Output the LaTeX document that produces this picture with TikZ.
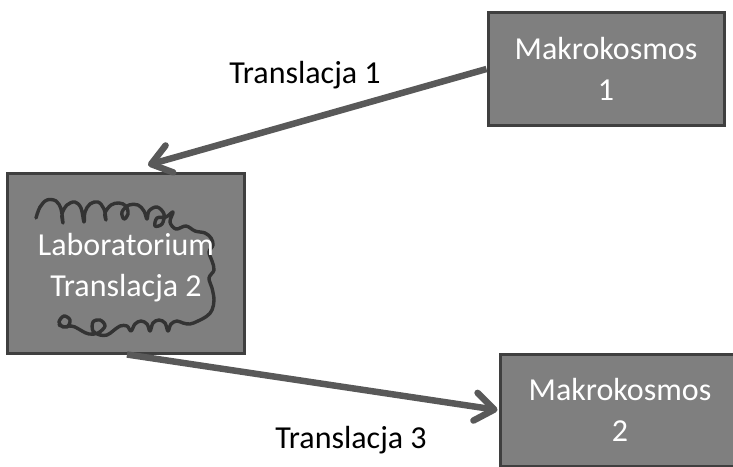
\documentclass[tikz,border=0pt]{standalone}
\usepackage{fontspec}
\setmainfont{Carlito}
\usetikzlibrary{arrows.meta}
\definecolor{boxfill}{HTML}{7F7F7F}
\definecolor{boxline}{HTML}{3F3F3F}
\definecolor{arrowcol}{HTML}{595959}
\definecolor{inkcol}{HTML}{333333}
\begin{document}
\begin{tikzpicture}[x=1pt,y=-1pt,
  box/.style={draw=boxline, line width=3pt, fill=boxfill, text=white,
    align=center, inner sep=0pt, font=\fontsize{32}{41}\selectfont},
  link/.style={draw=arrowcol, line width=6.5pt,
    -{Straight Barb[length=19pt,width=28pt,line cap=round,line join=round]}},
  caption/.style={font=\fontsize{32}{38}\selectfont, text=black, inner sep=0pt},
  ink/.style={draw=inkcol, line width=3.4pt, line cap=round, line join=round}]
\useasboundingbox (0,0) rectangle (733,466);
\clip (0,0) rectangle (733,466);

% boxes
\node[box, minimum width=236pt, minimum height=113pt] (mk1) at (606,69) {Makrokosmos\\1};
\node[box, minimum width=237pt, minimum height=180pt] (lab) at (126,263) {};
\node[box, minimum width=240pt, minimum height=112pt] (mk2) at (620,410) {Makrokosmos\\2};

% hand-drawn scribble around the laboratory text
\draw[ink] plot[smooth, tension=0.6] coordinates {
  (36,218) (40,207) (47,200) (56,201) (61,209) (63,223) (62,214) (67,205)
  (75,202) (81,208) (84,222) (85,212) (90,204) (98,202) (104,209) (106,220)
  (105,213) (111,205) (119,203) (126,206) (128,214) (124,219) (122,212)
  (129,205) (138,205) (144,211) (147,219) (149,211) (157,207) (164,214)
  (162,224) (155,226) (157,218) (166,217) (173,212) (170,222) (176,229)
  (186,226) (195,231) (205,233) (211,238) (213,245) (209,252) (212,261)
  (214,270) (209,278) (212,288) (214,300) (212,310) (207,316) (198,321)
  (190,324) (183,323) (177,321) (171,324) (168,331) (165,323) (159,320)
  (153,323) (150,331) (147,324) (141,321) (135,324) (131,331) (127,326)
  (120,326) (113,331) (107,335) (100,335) (93,331) (93,322) (100,320)
  (105,326) (98,333) (89,334) (82,331) (75,327) (69,326) (63,327)
  (59,322) (64,316) (70,320) (67,327) (59,325)
};

\node[text=white, align=center, inner sep=0pt, font=\fontsize{32}{41}\selectfont]
  (labtext) at ([yshift=-5pt]lab.center) {Laboratorium\\Translacja 2};

% connectors
\coordinate (t1) at (148,165);
\draw[link] (mk1.west) -- (t1);
\draw[link] ([xshift=1pt]lab.south) -- ([xshift=-1pt]mk2.west);

% captions
\node[caption] (c1) at (305,75) {Translacja 1};
\node[caption] (c3) at (351,440) {Translacja 3};
\end{tikzpicture}
\end{document}
